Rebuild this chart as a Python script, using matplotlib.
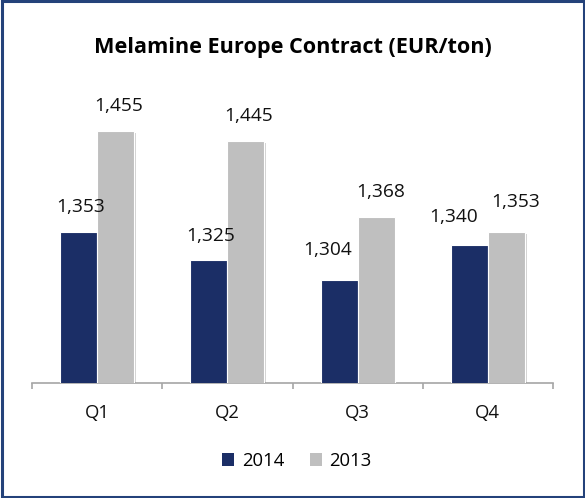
import matplotlib
matplotlib.use("Agg")
import matplotlib.pyplot as plt
import matplotlib.patheffects as pe
from matplotlib.patches import Rectangle, Patch
import numpy as np

categories = ["Q1", "Q2", "Q3", "Q4"]
series_2014 = [1353, 1325, 1304, 1340]
series_2013 = [1455, 1445, 1368, 1353]
series_names = ["2014", "2013"]
title = "Melamine Europe Contract (EUR/ton)"

# label offsets in pixels (dx, dy) relative to bar top center
label_off_2014 = [(2, 25), (1.5, 24), (-11, 30), (-16, 28)]
label_off_2013 = [(3, 25), (2.5, 25), (4, 25), (9, 30)]

NAVY = "#1B2E66"
GRAY = "#BFBFBF"
BORDER = "#24427A"
AXIS = "#A6A6A6"
FONT = "Open Sans"

W, H = 585, 498
fig = plt.figure(figsize=(W / 100, H / 100), dpi=100)
fig.patch.set_facecolor("white")

ax_left, ax_right, ax_bottom, ax_top = 32, 553, 383, 87
ax = fig.add_axes([ax_left / W, 1 - ax_bottom / H, (ax_right - ax_left) / W, (ax_bottom - ax_top) / H])

x = np.arange(len(categories))
bw = 0.285
shadow = [pe.SimplePatchShadow(offset=(1.2, -1.2), shadow_rgbFace="#808080", alpha=0.35), pe.Normal()]
b1 = ax.bar(x - bw / 2, series_2014, bw, color=NAVY, edgecolor="white", linewidth=0.8, zorder=3)
b2 = ax.bar(x + bw / 2, series_2013, bw, color=GRAY, edgecolor="white", linewidth=0.8, zorder=3)
for b in list(b1) + list(b2):
    b.set_path_effects(shadow)

ax.set_ylim(1200, 1500)
ax.set_xlim(-0.5, len(categories) - 0.5)

for bars, vals, offs in ((b1, series_2014, label_off_2014), (b2, series_2013, label_off_2013)):
    for b, v, o in zip(bars, vals, offs):
        ax.annotate(f"{v:,}", (b.get_x() + b.get_width() / 2, v), xytext=o,
                    textcoords="offset pixels", ha="center", va="center",
                    fontsize=13.8, family=FONT, color="#111111")

for s in ("top", "left", "right"):
    ax.spines[s].set_visible(False)
ax.spines["bottom"].set_color(AXIS)
ax.spines["bottom"].set_linewidth(1.2)
ax.set_yticks([])
ax.set_xticks(np.arange(len(categories) + 1) - 0.5)
ax.set_xticklabels([])
ax.tick_params(axis="x", which="major", length=4.5, color=AXIS, width=1.2)
ax.set_xticks(x, minor=True)
ax.set_xticklabels(categories, minor=True, fontsize=13.3, family=FONT, color="#111111")
ax.tick_params(axis="x", which="minor", length=0, pad=15)

fig.text(0.5, 1 - 48 / H, title, ha="center", va="center", fontsize=15.6,
         fontweight="bold", family=FONT, color="#000000")

handles = [Patch(facecolor=NAVY), Patch(facecolor=GRAY)]
fig.legend(handles, series_names, loc="center", bbox_to_anchor=(297 / W, 1 - 461 / H),
           ncol=2, frameon=False, handlelength=0.65, handleheight=0.65,
           handletextpad=0.4, columnspacing=1.4,
           prop={"family": FONT, "size": 13.3})

fig.add_artist(Rectangle((1.5 / W, 1.5 / H), (W - 3) / W, (H - 3) / H, transform=fig.transFigure,
                         fill=False, edgecolor=BORDER, linewidth=2.2))

fig.savefig("out.png", dpi=100)
